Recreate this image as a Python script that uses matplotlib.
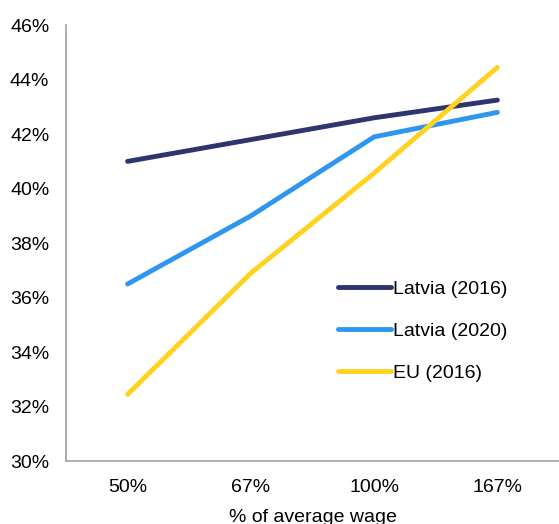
import matplotlib
matplotlib.use("Agg")
import matplotlib.pyplot as plt
from matplotlib.ticker import FuncFormatter

categories = ["50%", "67%", "100%", "167%"]
latvia_2016 = [41.0, 41.8, 42.6, 43.25]
latvia_2020 = [36.5, 39.0, 41.9, 42.8]
eu_2016 = [32.45, 36.9, 40.57, 44.45]
yticks = [30, 32, 34, 36, 38, 40, 42, 44, 46]

plt.rcParams['font.family'] = ['Liberation Sans', 'DejaVu Sans']

fig = plt.figure(figsize=(5.59, 5.24), dpi=100)
ax = fig.add_axes([0.118, 0.12, 0.882, 0.832])

x = list(range(len(categories)))
series = [
    ("Latvia (2016)", latvia_2016, "#2E346E"),
    ("Latvia (2020)", latvia_2020, "#2E96F0"),
    ("EU (2016)", eu_2016, "#FFD21F"),
]
for label, vals, col in series:
    ax.plot(x, vals, color=col, lw=3.5, solid_capstyle='round', label=label)

ax.set_xlim(-0.5, 3.5)
ax.set_ylim(30, 46)
ax.set_yticks(yticks)
ax.yaxis.set_major_formatter(FuncFormatter(lambda v, p: f"{v:.0f}%"))
ax.set_xticks(x)
ax.set_xticklabels(categories)
ax.tick_params(axis='both', length=0, labelsize=14, colors='#000000')
ax.tick_params(axis='x', pad=13)
ax.tick_params(axis='y', pad=12)
for s in ['top', 'right']:
    ax.spines[s].set_visible(False)
for s in ['left', 'bottom']:
    ax.spines[s].set_color('#A0A0A0')
    ax.spines[s].set_linewidth(1.2)

ax.set_xlabel("% of average wage", fontsize=14, labelpad=9)

leg = ax.legend(loc='upper left', bbox_to_anchor=(0.552, 0.414), frameon=False,
                fontsize=14, handlelength=2.7, handletextpad=0.1,
                labelspacing=1.25, borderaxespad=0, borderpad=0)

fig.savefig("out.png", dpi=100)
